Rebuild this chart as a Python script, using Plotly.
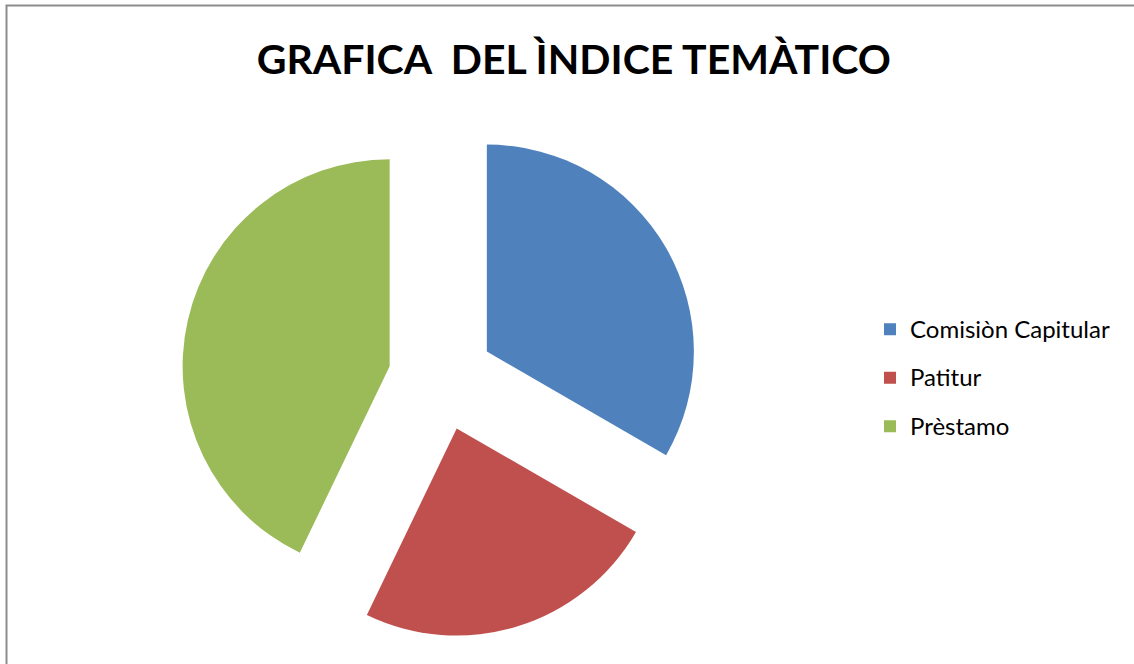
import plotly.graph_objects as go

categories = ["Comisiòn Capitular", "Patitur", "Prèstamo"]
values = [14, 10, 18]
colors = ["#4F81BD", "#C0504D", "#9BBB59"]
title_text = "GRAFICA  DEL ÌNDICE TEMÀTICO"

W, H = 1134, 664

legend_labels = [
    f"<span style='font-size:24px;baseline-shift:5px'>{c}</span>" for c in categories
]

fig = go.Figure(
    go.Pie(
        labels=legend_labels,
        values=values,
        marker=dict(colors=colors, line=dict(width=0)),
        pull=[0.255] * len(values),
        sort=False,
        direction="clockwise",
        rotation=0,
        textinfo="none",
        hoverinfo="label+value+percent",
        domain=dict(x=[0.139, 0.639], y=[0.0394, 0.822]),
    )
)

fig.update_layout(
    width=W,
    height=H,
    margin=dict(l=0, r=0, t=0, b=0),
    paper_bgcolor="white",
    plot_bgcolor="white",
    font=dict(family="Lato, Open Sans, sans-serif", color="#000000"),
    title=dict(
        text=f"<b>{title_text}</b>",
        x=0.506,
        xanchor="center",
        y=1 - 60 / H,
        yanchor="middle",
        font=dict(family="Lato, sans-serif", size=41, color="#000000"),
    ),
    showlegend=True,
    legend=dict(
        x=870 / W,
        xanchor="left",
        y=1 - 300 / H,
        yanchor="top",
        font=dict(family="Lato, sans-serif", size=35, color="#000000"),
        bgcolor="rgba(0,0,0,0)",
        borderwidth=0,
        traceorder="normal",
    ),
    shapes=[
        dict(
            type="rect",
            xref="paper",
            yref="paper",
            x0=6.5 / W,
            x1=1.02,
            y0=-0.02,
            y1=1 - 5.5 / H,
            line=dict(color="#8C8C8C", width=2),
            fillcolor="rgba(0,0,0,0)",
            layer="above",
        )
    ],
)

fig.write_html(
    "out.html",
    config={"displayModeBar": False},
    post_script="document.body.style.margin='0';document.body.style.overflow='hidden';",
)
